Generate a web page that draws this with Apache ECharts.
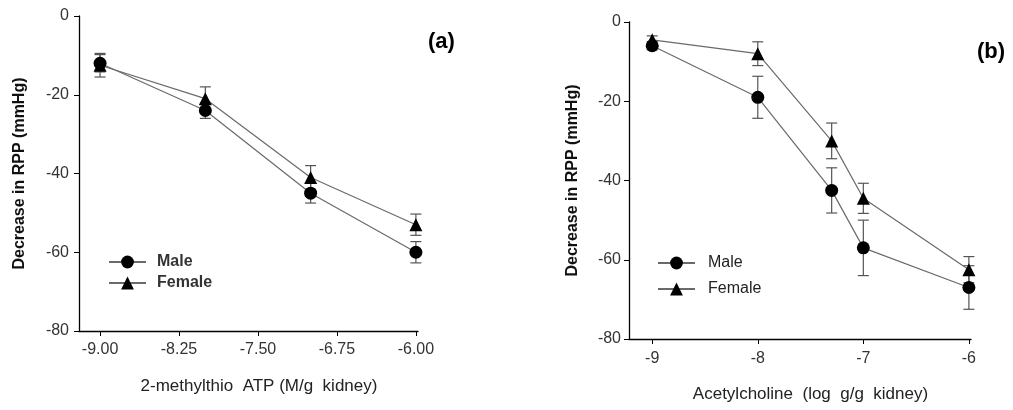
<!DOCTYPE html>
<html>
<head>
<meta charset="utf-8">
<script src="https://cdn.jsdelivr.net/npm/echarts@6/dist/echarts.min.js"></script>
<style>html,body{margin:0;padding:0;background:#fff}#c{width:1013px;height:410px}</style>
</head>
<body>
<div id="c"></div>
<script>
// Panel (a): 2-methylthio ATP
const xA = [-9, -8, -7, -6];
const maleA = [-12, -24, -45, -60];
const maleAErr = [2.2, 2, 2.5, 2.7];
const femaleA = [-12.5, -21, -41, -53];
const femaleAErr = [3, 3, 3, 2.7];
const xTicksA = [-9, -8.25, -7.5, -6.75, -6];

// Panel (b): Acetylcholine
const xB = [-9, -8, -7.3, -7, -6];
const maleB = [-6, -19, -42.5, -57, -67];
const maleBErr = [1, 5.3, 5.7, 7, 5.5];
const femaleB = [-4.5, -8, -30, -44.5, -62.5];
const femaleBErr = [1, 3, 4.5, 3.8, 3.3];
const xTicksB = [-9, -8, -7, -6];

const FF = 'Liberation Sans, Arial, sans-serif';
const chart = echarts.init(document.getElementById('c'));

function pairs(xs, ys) { return xs.map((x, i) => [x, ys[i]]); }
function errData(xs, ys, es) { return xs.map((x, i) => [x, ys[i] - es[i], ys[i] + es[i]]); }

function errSeries(idx, data) {
  return {
    type: 'custom', xAxisIndex: idx, yAxisIndex: idx, z: 1, silent: true,
    data: data,
    encode: { x: 0, y: [1, 2] },
    renderItem: function (params, api) {
      const x = api.value(0);
      const lo = api.coord([x, api.value(1)]);
      const hi = api.coord([x, api.value(2)]);
      const w = 5.5;
      const st = { stroke: '#555', lineWidth: 1.2 };
      return {
        type: 'group',
        children: [
          { type: 'line', shape: { x1: lo[0], y1: lo[1], x2: hi[0], y2: hi[1] }, style: st },
          { type: 'line', shape: { x1: lo[0] - w, y1: lo[1], x2: lo[0] + w, y2: lo[1] }, style: st },
          { type: 'line', shape: { x1: hi[0] - w, y1: hi[1], x2: hi[0] + w, y2: hi[1] }, style: st }
        ]
      };
    }
  };
}

function lineSeries(idx, name, data, symbol, size) {
  return {
    type: 'line', name: name, xAxisIndex: idx, yAxisIndex: idx, z: 3,
    data: data, symbol: symbol, symbolSize: size, showAllSymbol: true,
    lineStyle: { color: '#6a6a6a', width: 1.2 },
    itemStyle: { color: '#000' },
    emphasis: { disabled: true },
    animation: false
  };
}

const axisLineStyle = { lineStyle: { color: '#000', width: 1.3 } };
const tickLabel = { color: '#333', fontSize: 16, fontFamily: FF };

function xAxis(idx, min, max, ticks, fmt, name, margin) {
  return {
    type: 'value', gridIndex: idx, min: min, max: max,
    axisLine: Object.assign({ onZero: false }, axisLineStyle),
    axisTick: { show: true, inside: false, length: 5, customValues: ticks, lineStyle: { color: '#000' } },
    axisLabel: Object.assign({ customValues: ticks, margin: margin, formatter: fmt }, tickLabel),
    splitLine: { show: false },
    name: name, nameLocation: 'middle', nameGap: 47,
    nameTextStyle: { fontSize: 17, color: '#222', fontFamily: FF, padding: [0, 0, 0, 21] }
  };
}
function yAxis(idx, margin, gap) {
  return {
    type: 'value', gridIndex: idx, min: -80, max: 0, interval: 20,
    axisLine: Object.assign({ show: true, onZero: false }, axisLineStyle),
    axisTick: { show: true, inside: false, length: 5, lineStyle: { color: '#000' } },
    axisLabel: Object.assign({ margin: margin }, tickLabel),
    splitLine: { show: false },
    name: 'Decrease in RPP (mmHg)', nameLocation: 'middle', nameGap: gap, nameRotate: 90,
    nameTextStyle: { fontSize: 16, fontWeight: 'bold', color: '#111', fontFamily: FF }
  };
}

chart.setOption({
  animation: false,
  grid: [
    { left: 79, top: 16, width: 339, height: 315 },
    { left: 629, top: 22, width: 342, height: 317 }
  ],
  xAxis: [
    xAxis(0, -9.2, -5.98, xTicksA, v => v.toFixed(2), '2-methylthio  ATP (M/g  kidney)', 11),
    xAxis(1, -9.22, -5.98, xTicksB, v => String(v), 'Acetylcholine  (log  g/g  kidney)', 12)
  ],
  yAxis: [yAxis(0, 10, 51), yAxis(1, 8, 48)],
  legend: [
    {
      left: 103, top: 249, orient: 'vertical', itemWidth: 37, itemHeight: 16, itemGap: 5,
      data: [{ name: 'Male' }, { name: 'Female' }],
      textStyle: { fontSize: 16, fontWeight: 'bold', color: '#333', fontFamily: FF, padding: [0, 0, 0, 6] },
      selectedMode: false
    },
    {
      left: 652, top: 250, orient: 'vertical', itemWidth: 37, itemHeight: 16, itemGap: 10,
      data: [{ name: 'Male' }, { name: 'Female' }],
      textStyle: { fontSize: 16, color: '#222', fontFamily: FF, padding: [0, 0, 0, 8] },
      selectedMode: false
    }
  ],
  graphic: [
    { type: 'text', left: 428, top: 31, style: { text: '(a)', fontSize: 22, fontWeight: 'bold', fill: '#000', fontFamily: FF } },
    { type: 'text', left: 977, top: 41, style: { text: '(b)', fontSize: 22, fontWeight: 'bold', fill: '#000', fontFamily: FF } }
  ],
  series: [
    errSeries(0, errData(xA, maleA, maleAErr)),
    errSeries(0, errData(xA, femaleA, femaleAErr)),
    lineSeries(0, 'Male', pairs(xA, maleA), 'circle', 13),
    lineSeries(0, 'Female', pairs(xA, femaleA), 'triangle', 13),
    errSeries(1, errData(xB, maleB, maleBErr)),
    errSeries(1, errData(xB, femaleB, femaleBErr)),
    lineSeries(1, 'Male', pairs(xB, maleB), 'circle', 13),
    lineSeries(1, 'Female', pairs(xB, femaleB), 'triangle', 13)
  ]
});
</script>
</body>
</html>
